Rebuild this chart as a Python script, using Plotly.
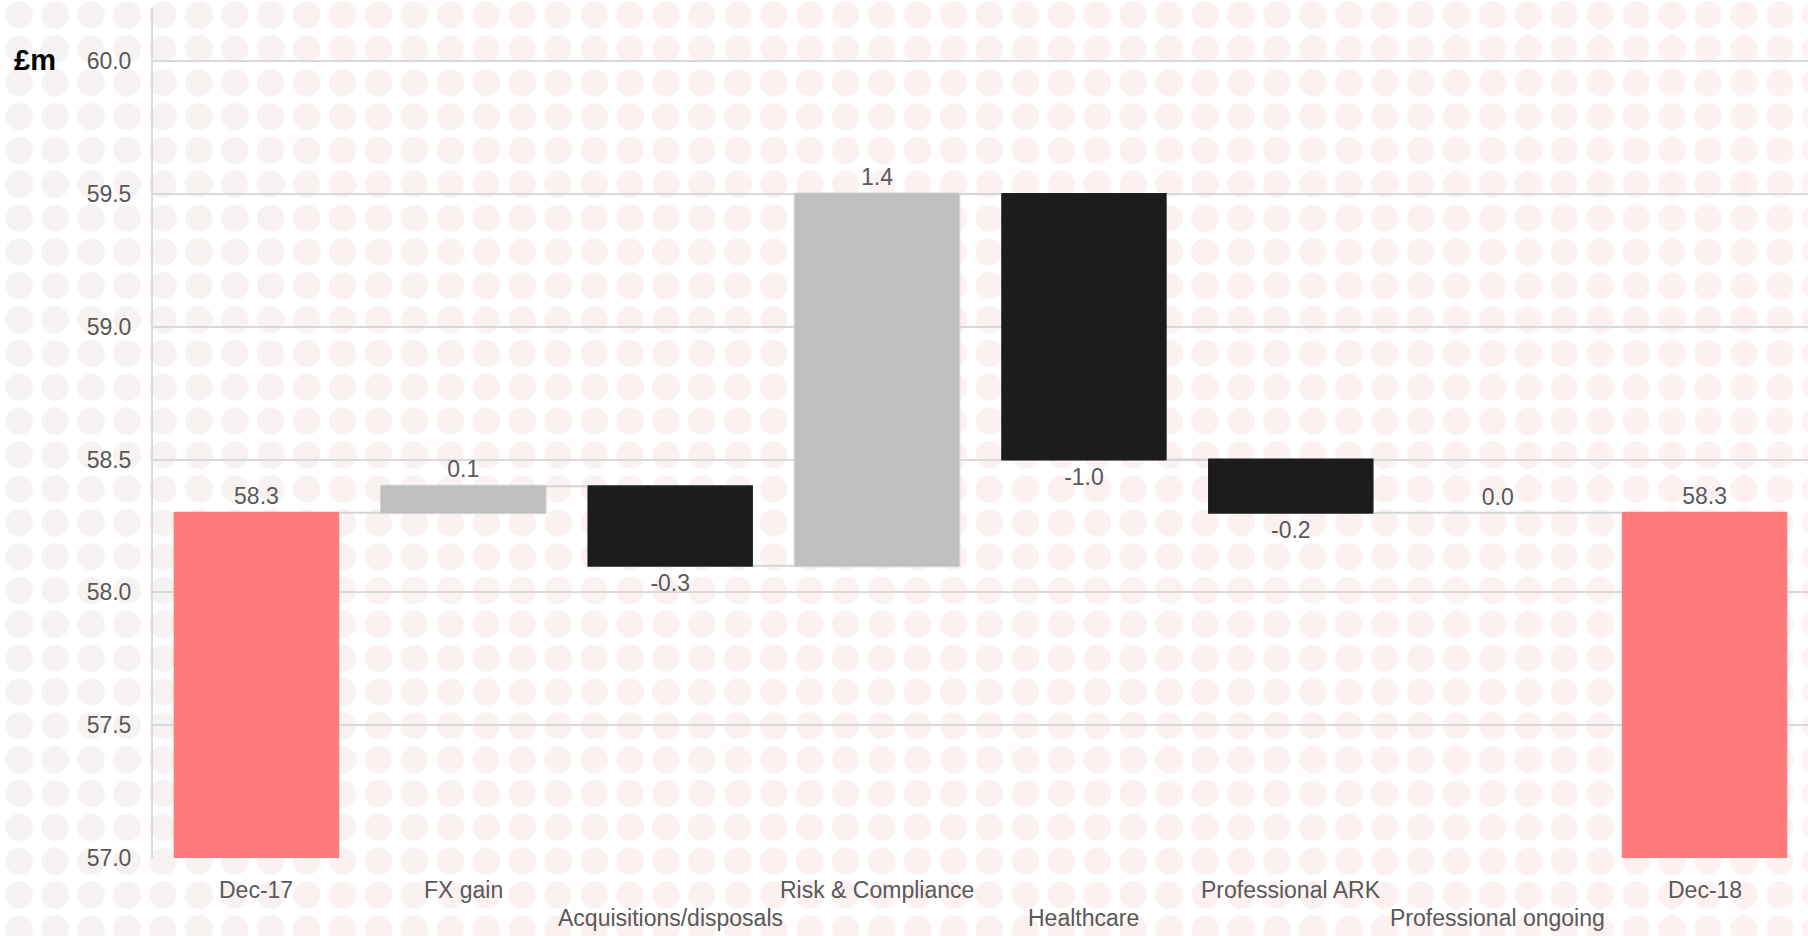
import base64
import plotly.graph_objects as go

# Revenue bridge, £m
categories = ["Dec-17", "FX gain", "Acquisitions/disposals", "Risk & Compliance",
              "Healthcare", "Professional ARK", "Professional ongoing", "Dec-18"]
values = [58.3, 0.1, -0.3, 1.4, -1.0, -0.2, 0.0, 58.3]
measures = ["absolute", "relative", "relative", "relative",
            "relative", "relative", "relative", "total"]
value_labels = ["58.3", "0.1", "-0.3", "1.4", "-1.0", "-0.2", "0.0", "58.3"]
y_ticks = [57.0, 57.5, 58.0, 58.5, 59.0, 59.5, 60.0]

W, H = 1808, 936
M_L, M_R, M_T, M_B = 153, 0, 8, 78
PLOT_W, PLOT_H = W - M_L - M_R, H - M_T - M_B
BARGAP = 0.2

FONT = "Liberation Sans, Arial, sans-serif"
TEXT_GREY = "#595959"
GRID = "#d9d9d9"
CONNECTOR = "#d4d4d4"

# Dotted page backdrop: a gradient-filled rectangle masked by a circle pattern
svg = f"""<svg xmlns="http://www.w3.org/2000/svg" width="{W}" height="{H}" viewBox="0 0 {W} {H}">
<defs>
<linearGradient id="g" x1="0" y1="0" x2="{W}" y2="0" gradientUnits="userSpaceOnUse">
<stop offset="0" stop-color="#f5f3f2"/>
<stop offset="0.18" stop-color="#faf1f1"/>
<stop offset="1" stop-color="#fdf1f1"/>
</linearGradient>
<pattern id="p" x="1.3" y="-1.9" width="35.93" height="33.85" patternUnits="userSpaceOnUse">
<circle cx="17.965" cy="16.925" r="13.8" fill="#ffffff"/>
</pattern>
<mask id="m"><rect width="{W}" height="{H}" fill="url(#p)"/></mask>
</defs>
<rect width="{W}" height="{H}" fill="url(#g)" mask="url(#m)"/>
</svg>"""
bg_src = "data:image/svg+xml;base64," + base64.b64encode(svg.encode()).decode()

fig = go.Figure(go.Waterfall(
    x=categories,
    y=values,
    measure=measures,
    text=value_labels,
    textposition="outside",
    textfont=dict(family=FONT, size=23, color=TEXT_GREY),
    cliponaxis=False,
    increasing=dict(marker=dict(color="#bfbfbf", line=dict(color=CONNECTOR, width=1))),
    decreasing=dict(marker=dict(color="#1c1c1c", line=dict(width=0))),
    totals=dict(marker=dict(color="#ff7b7b", line=dict(width=0))),
    connector=dict(mode="between", line=dict(color=CONNECTOR, width=2)),
    showlegend=False,
    hoverinfo="x+y",
))

# Flat steps (zero change) are drawn as a thin rule at the running level
shapes = []
running = 0.0
for i, (v, m) in enumerate(zip(values, measures)):
    running = v if m == "absolute" else (running if m == "total" else running + v)
    if m == "relative" and v == 0:
        half = (1 - BARGAP) / 2
        shapes.append(dict(
            type="line", xref="x", yref="y",
            x0=i - half, x1=i + half, y0=running, y1=running,
            line=dict(color=CONNECTOR, width=2), layer="above",
        ))

# Category labels staggered over two rows
annotations = []
for i, cat in enumerate(categories):
    second_row = i % 2 == 0 and 0 < i < len(categories) - 1
    annotations.append(dict(
        x=cat, xref="x", y=0, yref="paper",
        text=cat, showarrow=False,
        xanchor="center", yanchor="middle",
        yshift=-60 if second_row else -32,
        font=dict(family=FONT, size=23, color=TEXT_GREY),
    ))

# Unit label to the left of the top tick
annotations.append(dict(
    x=(35 - M_L) / PLOT_W, xref="paper",
    y=(H - M_B - 60) / PLOT_H, yref="paper",
    text="<b>£m</b>", showarrow=False,
    xanchor="center", yanchor="middle",
    font=dict(family=FONT, size=29, color="#000000"),
))

fig.update_layout(
    width=W, height=H,
    margin=dict(l=M_L, r=M_R, t=M_T, b=M_B, pad=0),
    paper_bgcolor="#ffffff",
    plot_bgcolor="rgba(0,0,0,0)",
    bargap=BARGAP,
    font=dict(family=FONT, size=23, color=TEXT_GREY),
    annotations=annotations,
    shapes=shapes,
    images=[dict(
        source=bg_src, xref="paper", yref="paper",
        x=-M_L / PLOT_W, y=1 + M_T / PLOT_H,
        sizex=W / PLOT_W, sizey=H / PLOT_H,
        xanchor="left", yanchor="top",
        sizing="stretch", layer="below", opacity=1,
    )],
    xaxis=dict(
        type="category",
        range=[-0.5, len(categories) - 0.5],
        showticklabels=False,
        showgrid=False,
        showline=False,
        zeroline=False,
        fixedrange=True,
    ),
    yaxis=dict(
        range=[57.0, 60.2],
        tickvals=y_ticks,
        tickformat=".1f",
        showgrid=True,
        gridcolor=GRID,
        gridwidth=2,
        showline=True,
        linecolor=GRID,
        linewidth=2,
        zeroline=False,
        ticks="",
        ticklabelstandoff=15,
        tickfont=dict(family=FONT, size=23, color=TEXT_GREY),
        fixedrange=True,
    ),
)

fig.write_html("out.html", config={"displayModeBar": False})
